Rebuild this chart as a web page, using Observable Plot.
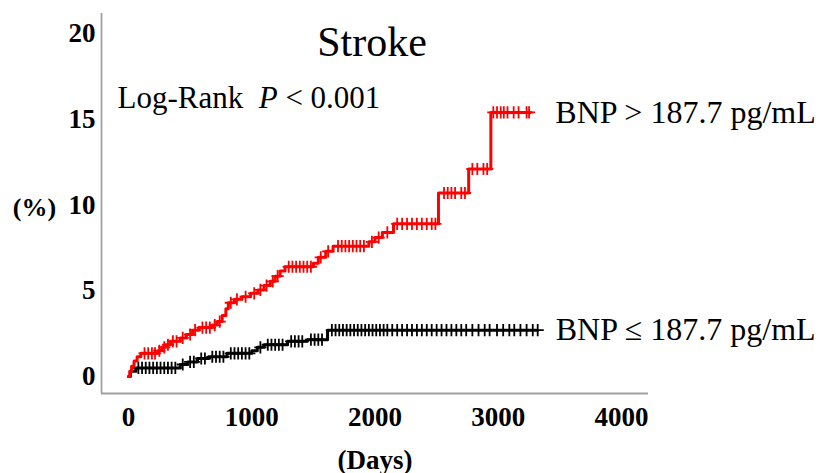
<!DOCTYPE html>
<html><head><meta charset="utf-8">
<script src="https://cdn.jsdelivr.net/npm/d3@7"></script>
<script src="https://cdn.jsdelivr.net/npm/@observablehq/plot@0.6"></script>
<style>body{margin:0;background:#fff}#chart svg{display:block}</style>
</head><body><div id="chart"></div>
<script>
// Step data (day at which the cumulative incidence changes, % from that day on)
const redDays = [0, 10, 25, 45, 70, 100, 240, 270, 300, 340, 420, 470, 520, 570, 680, 720, 760, 790, 810, 860, 920, 990, 1050, 1100, 1150, 1190, 1230, 1270, 1500, 1540, 1600, 1660, 1950, 2000, 2060, 2150, 2515, 2760, 2940, 3260];
const redPct  = [0, 0.3, 0.6, 0.9, 1.15, 1.35, 1.5, 1.7, 1.85, 2.05, 2.25, 2.45, 2.7, 2.85, 3.0, 3.2, 3.55, 3.95, 4.3, 4.5, 4.65, 4.85, 5.05, 5.3, 5.55, 5.85, 6.15, 6.4, 6.6, 6.95, 7.3, 7.6, 7.85, 8.1, 8.4, 8.9, 10.7, 12.1, 15.4, 15.4];
const blackDays = [0, 15, 60, 420, 480, 560, 650, 800, 1000, 1045, 1100, 1290, 1450, 1615, 3320];
const blackPct  = [0, 0.3, 0.5, 0.7, 0.85, 1.05, 1.15, 1.35, 1.5, 1.7, 1.85, 2.05, 2.15, 2.7, 2.7];
// Censoring times (days)
const redCensor = [130,160,190,215,250,290,320,360,390,440,500,540,600,630,660,700,740,830,880,950,1020,1070,1120,1170,1210,1300,1330,1360,1390,1420,1450,1480,1560,1620,1700,1730,1760,1790,1820,1850,1880,1910,1975,2030,2100,2180,2220,2260,2300,2340,2380,2420,2460,2490,2560,2590,2620,2650,2700,2730,2790,2830,2880,2910,2960,2990,3020,3045,3075,3125,3165,3230,3250];
const blackCensor = [80,110,140,170,200,230,260,290,320,350,380,440,500,530,590,620,680,710,740,770,830,860,890,920,950,980,1070,1130,1160,1190,1220,1250,1320,1350,1380,1410,1480,1510,1540,1570,1650,1680,1710,1740,1770,1800,1830,1860,1890,1920,1950,1980,2010,2040,2070,2100,2140,2180,2220,2260,2300,2340,2380,2420,2460,2500,2540,2580,2620,2660,2700,2740,2790,2840,2890,2930,2990,3040,3090,3130,3180,3230,3280,3320];
const groupLabels = ["BNP > 187.7 pg/mL", "BNP \u2264 187.7 pg/mL"];
const groupColors = ["#ff0000", "#000000"];
const xTicks = [0, 1000, 2000, 3000, 4000];
const yTicks = [0, 5, 10, 15, 20];
const titleText = "Stroke";
const pText = "Log-Rank  P < 0.001";
const xLabel = "(Days)";
const yLabel = "(%)";

const steps = (days, pct) => days.map((d, i) => ({day: d, pct: pct[i]}));
const red = steps(redDays, redPct);
const black = steps(blackDays, blackPct);
const at = (s, t) => { let v = s[0].pct; for (const p of s) if (p.day <= t) v = p.pct; return v; };
const cens = (s, ts) => ts.map(t => ({day: t, pct: at(s, t)}));
const redC = cens(red, redCensor);
const blackC = cens(black, blackCensor);
const redEnd = [{...red[red.length - 1], label: groupLabels[0]}];
const blackEnd = [{...black[black.length - 1], label: groupLabels[1]}];

const serif = "'Liberation Serif','Times New Roman',serif";
const axisGray = "#a0a0a0";
const chart = Plot.plot({
  width: 821, height: 473,
  marginLeft: 101, marginRight: 173, marginTop: 13, marginBottom: 80,
  insetLeft: 27, insetRight: 27, insetTop: 20, insetBottom: 17,
  style: {fontFamily: serif, background: "#fff", color: "#000"},
  x: {domain: [0, 4000]},
  y: {domain: [0, 20]},
  marks: [
    Plot.axisX({ticks: xTicks, tickFormat: d => String(d), tickSize: 0, tickPadding: 13, fontSize: 27, fontWeight: "bold", label: null, fill: "#000"}),
    Plot.axisY({ticks: yTicks, tickSize: 0, tickPadding: 6, fontSize: 27, fontWeight: "bold", label: null, fill: "#000"}),
    // axis lines along the left and bottom edges of the frame
    Plot.ruleX([0], {dx: -27, stroke: axisGray, strokeWidth: 1.8}),
    Plot.ruleY([0], {dy: 17, stroke: axisGray, strokeWidth: 1.8}),
    Plot.line(black, {x: "day", y: "pct", curve: "step-after", stroke: groupColors[1], strokeWidth: 3}),
    Plot.dot(blackC, {x: "day", y: "pct", symbol: "plus", r: 4, stroke: groupColors[1], strokeWidth: 1.8}),
    Plot.line(red, {x: "day", y: "pct", curve: "step-after", stroke: groupColors[0], strokeWidth: 3}),
    Plot.dot(redC, {x: "day", y: "pct", symbol: "plus", r: 4, stroke: groupColors[0], strokeWidth: 1.8}),
    Plot.text(redEnd, {x: "day", y: "pct", text: "label", dx: 25, textAnchor: "start", fontSize: 32, fill: "#000"}),
    Plot.text(blackEnd, {x: "day", y: "pct", text: "label", dx: 18, textAnchor: "start", fontSize: 32, fill: "#000"}),
    Plot.text([titleText], {text: d => d, frameAnchor: "top", dx: -3, dy: 42, lineAnchor: "bottom", fontSize: 42, fill: "#000"}),
    Plot.text([pText], {text: d => d, frameAnchor: "top-left", dx: 16, dy: 94, lineAnchor: "bottom", textAnchor: "start", fontSize: 31, fill: "#000"}),
    Plot.text([yLabel], {text: d => d, frameAnchor: "left", dx: -67, dy: 4, textAnchor: "middle", fontSize: 26, fontWeight: "bold", fill: "#000"}),
    Plot.text([xLabel], {text: d => d, frameAnchor: "bottom", dy: 75, lineAnchor: "bottom", fontSize: 27, fontWeight: "bold", fill: "#000"})
  ]
});
// italic P in the log-rank annotation
d3.select(chart).selectAll("text").filter(function() { return this.textContent === pText; })
  .each(function() {
    const t = d3.select(this);
    t.text(null).style("white-space", "pre");
    t.append("tspan").text("Log-Rank  ");
    t.append("tspan").attr("font-style", "italic").text("P");
    t.append("tspan").text(" < 0.001");
  });
document.getElementById("chart").appendChild(chart);
</script></body></html>
